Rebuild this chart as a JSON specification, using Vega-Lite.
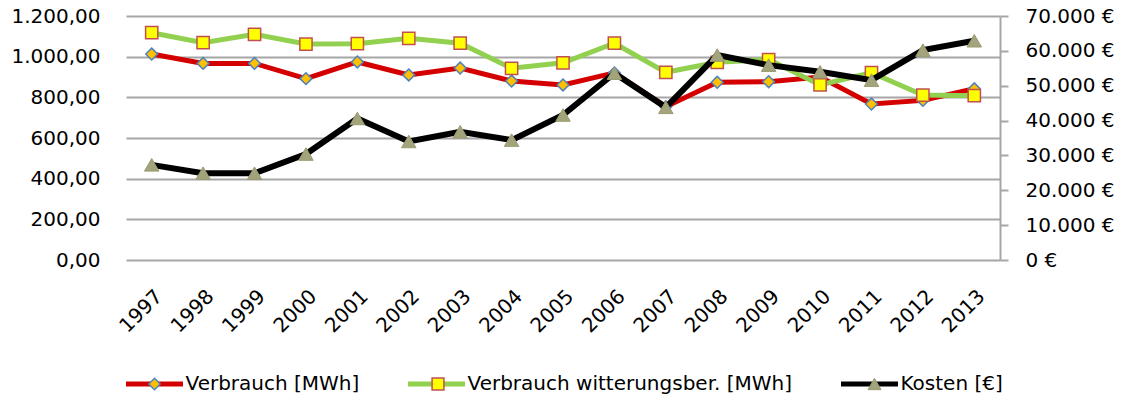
{
  "$schema": "https://vega.github.io/schema/vega-lite/v6.json",
  "autosize": "none",
  "width": 874,
  "height": 244,
  "padding": {"left": 126, "top": 16, "right": 124, "bottom": 140},
  "background": "#ffffff",
  "config": {
    "locale": {"number": {"decimal": ",", "thousands": ".", "grouping": [3], "currency": ["", " €"]}},
    "view": {"stroke": null},
    "font": "DejaVu Sans"
  },
  "data": {
    "values": [
      {"Jahr": "1997", "Reihe": "Verbrauch [MWh]", "Marker": "M1", "Wert": 1013},
      {"Jahr": "1998", "Reihe": "Verbrauch [MWh]", "Marker": "M1", "Wert": 967},
      {"Jahr": "1999", "Reihe": "Verbrauch [MWh]", "Marker": "M1", "Wert": 967},
      {"Jahr": "2000", "Reihe": "Verbrauch [MWh]", "Marker": "M1", "Wert": 892},
      {"Jahr": "2001", "Reihe": "Verbrauch [MWh]", "Marker": "M1", "Wert": 974},
      {"Jahr": "2002", "Reihe": "Verbrauch [MWh]", "Marker": "M1", "Wert": 910},
      {"Jahr": "2003", "Reihe": "Verbrauch [MWh]", "Marker": "M1", "Wert": 944},
      {"Jahr": "2004", "Reihe": "Verbrauch [MWh]", "Marker": "M1", "Wert": 880},
      {"Jahr": "2005", "Reihe": "Verbrauch [MWh]", "Marker": "M1", "Wert": 861},
      {"Jahr": "2006", "Reihe": "Verbrauch [MWh]", "Marker": "M1", "Wert": 920},
      {"Jahr": "2007", "Reihe": "Verbrauch [MWh]", "Marker": "M1", "Wert": 754},
      {"Jahr": "2008", "Reihe": "Verbrauch [MWh]", "Marker": "M1", "Wert": 874},
      {"Jahr": "2009", "Reihe": "Verbrauch [MWh]", "Marker": "M1", "Wert": 877},
      {"Jahr": "2010", "Reihe": "Verbrauch [MWh]", "Marker": "M1", "Wert": 900},
      {"Jahr": "2011", "Reihe": "Verbrauch [MWh]", "Marker": "M1", "Wert": 767},
      {"Jahr": "2012", "Reihe": "Verbrauch [MWh]", "Marker": "M1", "Wert": 785},
      {"Jahr": "2013", "Reihe": "Verbrauch [MWh]", "Marker": "M1", "Wert": 842},
      {"Jahr": "1997", "Reihe": "Verbrauch witterungsber. [MWh]", "Marker": "M2", "Wert": 1118},
      {"Jahr": "1998", "Reihe": "Verbrauch witterungsber. [MWh]", "Marker": "M2", "Wert": 1069},
      {"Jahr": "1999", "Reihe": "Verbrauch witterungsber. [MWh]", "Marker": "M2", "Wert": 1110},
      {"Jahr": "2000", "Reihe": "Verbrauch witterungsber. [MWh]", "Marker": "M2", "Wert": 1062},
      {"Jahr": "2001", "Reihe": "Verbrauch witterungsber. [MWh]", "Marker": "M2", "Wert": 1064},
      {"Jahr": "2002", "Reihe": "Verbrauch witterungsber. [MWh]", "Marker": "M2", "Wert": 1090},
      {"Jahr": "2003", "Reihe": "Verbrauch witterungsber. [MWh]", "Marker": "M2", "Wert": 1066},
      {"Jahr": "2004", "Reihe": "Verbrauch witterungsber. [MWh]", "Marker": "M2", "Wert": 943},
      {"Jahr": "2005", "Reihe": "Verbrauch witterungsber. [MWh]", "Marker": "M2", "Wert": 970},
      {"Jahr": "2006", "Reihe": "Verbrauch witterungsber. [MWh]", "Marker": "M2", "Wert": 1066},
      {"Jahr": "2007", "Reihe": "Verbrauch witterungsber. [MWh]", "Marker": "M2", "Wert": 923},
      {"Jahr": "2008", "Reihe": "Verbrauch witterungsber. [MWh]", "Marker": "M2", "Wert": 972},
      {"Jahr": "2009", "Reihe": "Verbrauch witterungsber. [MWh]", "Marker": "M2", "Wert": 986},
      {"Jahr": "2010", "Reihe": "Verbrauch witterungsber. [MWh]", "Marker": "M2", "Wert": 861},
      {"Jahr": "2011", "Reihe": "Verbrauch witterungsber. [MWh]", "Marker": "M2", "Wert": 921},
      {"Jahr": "2012", "Reihe": "Verbrauch witterungsber. [MWh]", "Marker": "M2", "Wert": 811},
      {"Jahr": "2013", "Reihe": "Verbrauch witterungsber. [MWh]", "Marker": "M2", "Wert": 808},
      {"Jahr": "1997", "Reihe": "Kosten [€]", "Marker": "M3", "Wert": 27300},
      {"Jahr": "1998", "Reihe": "Kosten [€]", "Marker": "M3", "Wert": 24900},
      {"Jahr": "1999", "Reihe": "Kosten [€]", "Marker": "M3", "Wert": 24900},
      {"Jahr": "2000", "Reihe": "Kosten [€]", "Marker": "M3", "Wert": 30400},
      {"Jahr": "2001", "Reihe": "Kosten [€]", "Marker": "M3", "Wert": 40600},
      {"Jahr": "2002", "Reihe": "Kosten [€]", "Marker": "M3", "Wert": 34000},
      {"Jahr": "2003", "Reihe": "Kosten [€]", "Marker": "M3", "Wert": 36800},
      {"Jahr": "2004", "Reihe": "Kosten [€]", "Marker": "M3", "Wert": 34400},
      {"Jahr": "2005", "Reihe": "Kosten [€]", "Marker": "M3", "Wert": 41600},
      {"Jahr": "2006", "Reihe": "Kosten [€]", "Marker": "M3", "Wert": 53600},
      {"Jahr": "2007", "Reihe": "Kosten [€]", "Marker": "M3", "Wert": 43800},
      {"Jahr": "2008", "Reihe": "Kosten [€]", "Marker": "M3", "Wert": 58800},
      {"Jahr": "2009", "Reihe": "Kosten [€]", "Marker": "M3", "Wert": 55900},
      {"Jahr": "2010", "Reihe": "Kosten [€]", "Marker": "M3", "Wert": 54000},
      {"Jahr": "2011", "Reihe": "Kosten [€]", "Marker": "M3", "Wert": 51600},
      {"Jahr": "2012", "Reihe": "Kosten [€]", "Marker": "M3", "Wert": 60200},
      {"Jahr": "2013", "Reihe": "Kosten [€]", "Marker": "M3", "Wert": 62900}
    ]
  },
  "encoding": {
    "x": {
      "field": "Jahr", "type": "ordinal",
      "scale": {"type": "point", "padding": 0.5},
      "axis": {"title": null, "labelAngle": -45, "labelFontSize": 20, "labelFont": "DejaVu Sans", "labelColor": "#000000", "labelPadding": 26, "ticks": false, "domain": false, "grid": false}
    }
  },
  "layer": [
    {
      "transform": [{"filter": "datum.Reihe != 'Kosten [€]'"}],
      "mark": {"type": "line", "strokeWidth": 5},
      "encoding": {
        "y": {
          "field": "Wert", "type": "quantitative",
          "scale": {"domain": [0, 1200], "nice": false},
          "axis": {"title": null, "values": [0, 200, 400, 600, 800, 1000, 1200], "format": ",.2f", "labelFontSize": 20, "labelFont": "DejaVu Sans", "labelColor": "#000000", "labelPadding": 26, "domain": false, "ticks": false, "grid": true, "gridColor": "#a6a6a6", "gridWidth": 2}
        },
        "color": {
          "field": "Reihe", "type": "nominal",
          "scale": {"domain": ["Verbrauch [MWh]", "Verbrauch witterungsber. [MWh]", "Kosten [€]"], "range": ["#d40000", "#92d050", "#000000"]},
          "legend": {"orient": "none", "legendX": -2.5, "legendY": 358, "direction": "horizontal", "columns": 3, "title": null, "symbolType": "stroke", "symbolSize": 3249, "symbolStrokeWidth": 5, "labelOffset": 0, "labelFontSize": 20, "labelFont": "DejaVu Sans", "labelColor": "#000000", "labelLimit": 600, "columnPadding": 46, "clipHeight": 20, "padding": 0}
        }
      }
    },
    {
      "transform": [{"filter": "datum.Marker == 'M1'"}],
      "mark": {"type": "point", "filled": true, "size": 140, "strokeWidth": 1.5, "opacity": 1},
      "encoding": {
        "y": {"field": "Wert", "type": "quantitative", "scale": {"domain": [0, 1200], "nice": false}, "axis": null},
        "shape": {"field": "Marker", "type": "nominal", "scale": {"domain": ["M1"], "range": ["diamond"]},
          "legend": {"orient": "none", "legendX": 18.5, "legendY": 358, "title": null, "symbolSize": 130, "symbolStrokeWidth": 1.5, "symbolOffset": 0, "labelExpr": "''", "labelFontSize": 20, "clipHeight": 20, "padding": 0}},
        "fill": {"field": "Marker", "type": "nominal", "scale": {"domain": ["M1"], "range": ["#ffc000"]},
          "legend": {"orient": "none", "legendX": 18.5, "legendY": 358, "title": null, "symbolSize": 130, "symbolStrokeWidth": 1.5, "symbolOffset": 0, "labelExpr": "''", "labelFontSize": 20, "clipHeight": 20, "padding": 0}},
        "stroke": {"field": "Marker", "type": "nominal", "scale": {"domain": ["M1"], "range": ["#4f81bd"]},
          "legend": {"orient": "none", "legendX": 18.5, "legendY": 358, "title": null, "symbolSize": 130, "symbolStrokeWidth": 1.5, "symbolOffset": 0, "labelExpr": "''", "labelFontSize": 20, "clipHeight": 20, "padding": 0}}
      }
    },
    {
      "transform": [{"filter": "datum.Marker == 'M2'"}],
      "mark": {"type": "point", "filled": true, "size": 150, "strokeWidth": 1.5, "opacity": 1},
      "encoding": {
        "y": {"field": "Wert", "type": "quantitative", "scale": {"domain": [0, 1200], "nice": false}, "axis": null},
        "shape": {"field": "Marker", "type": "nominal", "scale": {"domain": ["M2"], "range": ["square"]},
          "legend": {"orient": "none", "legendX": 302, "legendY": 358, "title": null, "symbolSize": 140, "symbolStrokeWidth": 1.5, "symbolOffset": 0, "labelExpr": "''", "labelFontSize": 20, "clipHeight": 20, "padding": 0}},
        "fill": {"field": "Marker", "type": "nominal", "scale": {"domain": ["M2"], "range": ["#ffff00"]},
          "legend": {"orient": "none", "legendX": 302, "legendY": 358, "title": null, "symbolSize": 140, "symbolStrokeWidth": 1.5, "symbolOffset": 0, "labelExpr": "''", "labelFontSize": 20, "clipHeight": 20, "padding": 0}},
        "stroke": {"field": "Marker", "type": "nominal", "scale": {"domain": ["M2"], "range": ["#c0504d"]},
          "legend": {"orient": "none", "legendX": 302, "legendY": 358, "title": null, "symbolSize": 140, "symbolStrokeWidth": 1.5, "symbolOffset": 0, "labelExpr": "''", "labelFontSize": 20, "clipHeight": 20, "padding": 0}}
      }
    },
    {
      "transform": [{"filter": "datum.Reihe == 'Kosten [€]'"}],
      "mark": {"type": "line", "strokeWidth": 6},
      "encoding": {
        "y": {
          "field": "Wert", "type": "quantitative",
          "scale": {"domain": [0, 70000], "nice": false},
          "axis": {"title": null, "orient": "right", "values": [0, 10000, 20000, 30000, 40000, 50000, 60000, 70000], "format": "$,.0f", "labelFontSize": 20, "labelFont": "DejaVu Sans", "labelColor": "#000000", "labelPadding": 17, "domain": true, "domainColor": "#a6a6a6", "domainWidth": 2, "ticks": true, "tickColor": "#a6a6a6", "tickWidth": 2, "tickSize": 8, "grid": false}
        },
        "color": {
          "field": "Reihe", "type": "nominal",
          "scale": {"domain": ["Verbrauch [MWh]", "Verbrauch witterungsber. [MWh]", "Kosten [€]"], "range": ["#d40000", "#92d050", "#000000"]},
          "legend": {"orient": "none", "legendX": -2.5, "legendY": 358, "direction": "horizontal", "columns": 3, "title": null, "symbolType": "stroke", "symbolSize": 3249, "symbolStrokeWidth": 5, "labelOffset": 0, "labelFontSize": 20, "labelFont": "DejaVu Sans", "labelColor": "#000000", "labelLimit": 600, "columnPadding": 46, "clipHeight": 20, "padding": 0}
        }
      }
    },
    {
      "transform": [{"filter": "datum.Marker == 'M3'"}],
      "mark": {"type": "point", "filled": true, "size": 210, "strokeWidth": 1, "opacity": 1},
      "encoding": {
        "y": {"field": "Wert", "type": "quantitative", "scale": {"domain": [0, 70000], "nice": false}, "axis": null},
        "shape": {"field": "Marker", "type": "nominal", "scale": {"domain": ["M3"], "range": ["triangle-up"]},
          "legend": {"orient": "none", "legendX": 738.5, "legendY": 358, "title": null, "symbolSize": 170, "symbolStrokeWidth": 1, "symbolOffset": 0, "labelExpr": "''", "labelFontSize": 20, "clipHeight": 20, "padding": 0}},
        "fill": {"field": "Marker", "type": "nominal", "scale": {"domain": ["M3"], "range": ["#a4a47c"]},
          "legend": {"orient": "none", "legendX": 738.5, "legendY": 358, "title": null, "symbolSize": 170, "symbolStrokeWidth": 1, "symbolOffset": 0, "labelExpr": "''", "labelFontSize": 20, "clipHeight": 20, "padding": 0}},
        "stroke": {"field": "Marker", "type": "nominal", "scale": {"domain": ["M3"], "range": ["#9a9a72"]},
          "legend": {"orient": "none", "legendX": 738.5, "legendY": 358, "title": null, "symbolSize": 170, "symbolStrokeWidth": 1, "symbolOffset": 0, "labelExpr": "''", "labelFontSize": 20, "clipHeight": 20, "padding": 0}}
      }
    }
  ],
  "resolve": {"scale": {"y": "independent", "shape": "independent", "fill": "independent", "stroke": "independent"}}
}
